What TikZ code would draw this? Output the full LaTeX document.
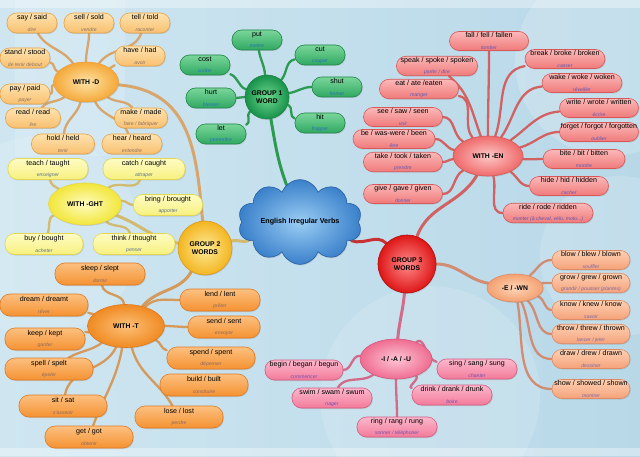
\documentclass[tikz,border=0pt]{standalone}
\usepackage{fontspec}
\setmainfont{Liberation Sans}
\usetikzlibrary{shapes.geometric,shapes.symbols,shadows}
\pgfdeclarelayer{back}
\pgfdeclarelayer{links}
\pgfsetlayers{back,links,main}
\newcommand\lf[2]{{\fontsize{7.1}{7.8}\selectfont #1}\\[-0.8pt]{\fontsize{5.1}{5.8}\selectfont\itshape\color{tr}#2}}
% colours
\definecolor{bgA}{HTML}{CFE6F1}
\definecolor{bgB}{HTML}{B8D8E8}
% D
\definecolor{tD}{HTML}{FEE3B0}\definecolor{bD}{HTML}{F9C070}\definecolor{dD}{HTML}{E8A245}\definecolor{trD}{HTML}{8A7060}
\definecolor{hiD}{HTML}{FDE4A8}\definecolor{hoD}{HTML}{F5A838}
% GHT
\definecolor{tG}{HTML}{FEFCC4}\definecolor{bG}{HTML}{F7F07E}\definecolor{dG}{HTML}{E3D650}\definecolor{trG}{HTML}{5A7090}
\definecolor{hiG}{HTML}{FFFCC0}\definecolor{hoG}{HTML}{F2E63A}
% G2
\definecolor{hi2}{HTML}{FDEB98}\definecolor{ho2}{HTML}{F3B520}\definecolor{d2}{HTML}{DB9A1C}
% T
\definecolor{tT}{HTML}{FCC080}\definecolor{bT}{HTML}{F59232}\definecolor{dT}{HTML}{E07A22}\definecolor{trT}{HTML}{8A6A60}
\definecolor{hiT}{HTML}{FCC078}\definecolor{hoT}{HTML}{F08A22}
% green
\definecolor{tV}{HTML}{7AD69A}\definecolor{bV}{HTML}{30A862}\definecolor{dV}{HTML}{1E8646}\definecolor{trV}{HTML}{2A72B8}
\definecolor{hiV}{HTML}{6ED88E}\definecolor{hoV}{HTML}{17914A}
% EN
\definecolor{tE}{HTML}{FCB8B8}\definecolor{bE}{HTML}{F07A7A}\definecolor{dE}{HTML}{D65858}\definecolor{trE}{HTML}{5A5AB8}
\definecolor{hiE}{HTML}{FDC8C8}\definecolor{hoE}{HTML}{EF6A6A}
% G3
\definecolor{hi3}{HTML}{FF8A8A}\definecolor{ho3}{HTML}{DE1616}\definecolor{d3}{HTML}{B01010}
% EWN
\definecolor{tW}{HTML}{FDD0B2}\definecolor{bW}{HTML}{F5A27A}\definecolor{dW}{HTML}{DE8A62}\definecolor{trW}{HTML}{7A6AA8}
\definecolor{hiW}{HTML}{FDD6BA}\definecolor{hoW}{HTML}{F4A070}
% IAU
\definecolor{tI}{HTML}{FCB8CC}\definecolor{bI}{HTML}{F27A9A}\definecolor{dI}{HTML}{D65A80}\definecolor{trI}{HTML}{7050B0}
\definecolor{hiI}{HTML}{FDC6D6}\definecolor{hoI}{HTML}{EF6C90}
% cloud
\definecolor{hiC}{HTML}{9ACDF4}\definecolor{hoC}{HTML}{3A80CA}\definecolor{dC}{HTML}{2860A0}
% links
\definecolor{lnD}{HTML}{D8A66C}\definecolor{lnG}{HTML}{D2BA70}\definecolor{lnT}{HTML}{D49A5C}
\definecolor{lnV}{HTML}{2C9A50}\definecolor{lnE}{HTML}{D26262}\definecolor{ln3}{HTML}{C83232}
\definecolor{lnW}{HTML}{D28C72}\definecolor{lnI}{HTML}{D26A8A}
\tikzset{
  base/.style={rectangle, rounded corners=9.5pt, minimum height=20pt, inner sep=1pt, align=center,
    line width=0.6pt, drop shadow={opacity=0.25,shadow xshift=0.8pt,shadow yshift=-1pt}},
  lD/.style={base, minimum width=50pt, draw=dD, top color=tD, bottom color=bD, execute at begin node=\colorlet{tr}{trD}},
  lG/.style={base, minimum width=80pt, minimum height=21pt, draw=dG, top color=tG, bottom color=bG, execute at begin node=\colorlet{tr}{trG}},
  lT/.style={base, minimum width=88pt, minimum height=22pt, rounded corners=10pt, draw=dT, top color=tT, bottom color=bT, execute at begin node=\colorlet{tr}{trT}},
  lV/.style={base, minimum width=50pt, draw=dV, top color=tV, bottom color=bV, execute at begin node=\colorlet{tr}{trV}},
  lE/.style={base, minimum width=79pt, minimum height=19pt, draw=dE, top color=tE, bottom color=bE, execute at begin node=\colorlet{tr}{trE}},
  lW/.style={base, minimum width=78pt, minimum height=19pt, draw=dW, top color=tW, bottom color=bW, execute at begin node=\colorlet{tr}{trW}},
  lI/.style={base, minimum width=80pt, minimum height=20pt, draw=dI, top color=tI, bottom color=bI, execute at begin node=\colorlet{tr}{trI}},
  hub/.style={ellipse, inner sep=0pt, align=center, line width=0.6pt, font=\fontsize{6.8}{7.8}\selectfont\bfseries,
    drop shadow={opacity=0.25,shadow xshift=0.8pt,shadow yshift=-1pt}},
  grp/.style={circle, inner sep=0pt, align=center, line width=0.6pt, font=\fontsize{6.8}{8}\selectfont\bfseries,
    drop shadow={opacity=0.25,shadow xshift=0.8pt,shadow yshift=-1pt}},
  lk/.style={line width=2.3pt, line cap=round},
  lkb/.style={line width=3pt, line cap=round},
}
\begin{document}
\begin{tikzpicture}[x=1pt,y=1pt]
\useasboundingbox (0,0) rectangle (640,456);
\begin{pgfonlayer}{back}
  \fill[left color=bgA, right color=bgB] (0,0) rectangle (640,456);
  \fill[white,opacity=0.18] (610,395) circle (95);
  \fill[white,opacity=0.15] (620,200) circle (80);
  \fill[white,opacity=0.14] (430,60) circle (110);
  \fill[white,opacity=0.12] (40,220) circle (100);
  \fill[white,opacity=0.15] (15,300) rectangle (125,456);
  \fill[white,opacity=0.35] (0,448) rectangle (640,456);
  \fill[white,opacity=0.35] (0,0) rectangle (640,8);
\end{pgfonlayer}

% ---------- centre
\node[cloud, cloud puffs=10, cloud puff arc=140, aspect=1.75, minimum width=124pt, minimum height=72pt, inner sep=0pt,
  draw=dC, line width=0.6pt, inner color=hiC, outer color=hoC, font=\fontsize{7.2}{8}\selectfont\bfseries,
  drop shadow={opacity=0.25,shadow xshift=0.8pt,shadow yshift=-1pt}] (cen) at (300,234) {English Irregular Verbs};

% ---------- group 1
\node[grp, minimum size=44pt, draw=dV, inner color=hiV, outer color=hoV] (g1) at (267,359) {GROUP 1\\WORD};
\node[lV] (put)  at (257,416) {\lf{put}{mettre}};
\node[lV] (cut)  at (320,401) {\lf{cut}{couper}};
\node[lV] (cost) at (205,391) {\lf{cost}{coûter}};
\node[lV] (shut) at (337,369) {\lf{shut}{fermer}};
\node[lV] (hurt) at (211,358) {\lf{hurt}{blesser}};
\node[lV] (hit)  at (320,333) {\lf{hit}{frapper}};
\node[lV] (let)  at (221,322) {\lf{let}{permettre}};

% ---------- with -D
\node[hub, minimum width=65pt, minimum height=40pt, draw=dD, inner color=hiD, outer color=hoD] (hd) at (86,374) {WITH -D};
\node[lD] (say)   at (32,433)  {\lf{say / said}{dire}};
\node[lD] (sell)  at (89,433)  {\lf{sell / sold}{vendre}};
\node[lD] (tell)  at (145,433) {\lf{tell / told}{raconter}};
\node[lD] (stand) at (25,398)  {\lf{stand / stood}{de tenir debout}};
\node[lD] (have)  at (140,400) {\lf{have / had}{avoir}};
\node[lD] (pay)   at (25,362)  {\lf{pay / paid}{payer}};
\node[lD, minimum width=55pt] (read)  at (33,338)  {\lf{read / read}{lire}};
\node[lD, minimum width=53pt] (make)  at (141,338) {\lf{make / made}{faire / fabriquer}};
\node[lD, minimum width=63pt] (hold)  at (63,312)  {\lf{hold / held}{tenir}};
\node[lD, minimum width=60pt] (hear)  at (132,312) {\lf{hear / heard}{entendre}};

% ---------- with -GHT
\node[hub, minimum width=73pt, minimum height=42pt, draw=dG, inner color=hiG, outer color=hoG] (hg) at (85,252) {WITH -GHT};
\node[lG] (teach) at (48,287)  {\lf{teach / taught}{enseigner}};
\node[lG, minimum width=82pt] (catch) at (144,287) {\lf{catch / caught}{attraper}};
\node[lG, minimum width=69pt] (bring) at (168,251) {\lf{bring / brought}{apporter}};
\node[lG, minimum width=78pt] (buy)   at (44,212)  {\lf{buy / bought}{acheter}};
\node[lG, minimum width=82pt] (think) at (134,212) {\lf{think / thought}{penser}};

% ---------- group 2
\node[grp, minimum size=54pt, draw=d2, inner color=hi2, outer color=ho2] (g2) at (205,208) {GROUP 2\\WORDS};

% ---------- with -T
\node[hub, minimum width=77pt, minimum height=43pt, draw=dT, inner color=hiT, outer color=hoT] (ht) at (126,130) {WITH -T};
\node[lT, minimum width=90pt] (sleep) at (100,182) {\lf{sleep / slept}{dormir}};
\node[lT] (dream) at (44,151)  {\lf{dream / dreamt}{rêver}};
\node[lT, minimum width=80pt] (lend)  at (220,156) {\lf{lend / lent}{prêter}};
\node[lT, minimum width=72pt] (send)  at (224,129) {\lf{send / sent}{envoyer}};
\node[lT, minimum width=80pt] (keep)  at (45,117)  {\lf{keep / kept}{garder}};
\node[lT] (spell) at (49,87)   {\lf{spell / spelt}{épeler}};
\node[lT] (spend) at (211,98)  {\lf{spend / spent}{dépenser}};
\node[lT] (build) at (204,71)  {\lf{build / built}{construire}};
\node[lT] (sit)   at (63,50)   {\lf{sit / sat}{s'asseoir}};
\node[lT] (lose)  at (179,39)  {\lf{lose / lost}{perdre}};
\node[lT] (get)   at (89,19)   {\lf{get / got}{obtenir}};

% ---------- group 3
\node[grp, minimum size=58pt, draw=d3, inner color=hi3, outer color=ho3] (g3) at (407,192) {GROUP 3\\WORDS};

% ---------- with -EN
\node[hub, minimum width=70pt, minimum height=40pt, draw=dE, inner color=hiE, outer color=hoE] (he) at (488,300) {WITH -EN};
\node[lE] (fall)   at (489,415) {\lf{fall / fell / fallen}{tomber}};
\node[lE, minimum width=81pt] (speak)  at (437,390) {\lf{speak / spoke / spoken}{parler / dire}};
\node[lE, minimum width=80pt] (break)  at (565,397) {\lf{break / broke / broken}{casser}};
\node[lE] (eat)    at (419,367) {\lf{eat / ate /eaten}{manger}};
\node[lE, minimum width=80pt] (wake)   at (582,373) {\lf{wake / woke / woken}{réveiller}};
\node[lE] (see)    at (403,339) {\lf{see / saw / seen}{voir}};
\node[lE] (write)  at (599,348) {\lf{write / wrote / written}{écrire}};
\node[lE, minimum width=82pt] (be)     at (394,317) {\lf{be / was-were / been}{être}};
\node[lE] (forget) at (599,324) {\lf{forget / forgot / forgotten}{oublier}};
\node[lE] (take)   at (403,294) {\lf{take / took / taken}{prendre}};
\node[lE, minimum width=82pt] (bite)   at (584,297) {\lf{bite / bit / bitten}{mordre}};
\node[lE] (give)   at (403,262) {\lf{give / gave / given}{donner}};
\node[lE] (hide)   at (569,270) {\lf{hide / hid / hidden}{cacher}};
\node[lE, minimum width=90pt] (ride)   at (548,243) {\lf{ride / rode / ridden}{monter (à cheval, vélo, moto...)}};

% ---------- -E / -WN
\node[hub, minimum width=56pt, minimum height=28pt, draw=dW, inner color=hiW, outer color=hoW] (hw) at (515,168) {-E / -WN};
\node[lW] (blow)  at (591,196) {\lf{blow / blew / blown}{souffler}};
\node[lW] (grow)  at (591,173) {\lf{grow / grew / grown}{grandir / pousser (plantes)}};
\node[lW] (know)  at (591,146) {\lf{know / knew / know}{savoir}};
\node[lW] (throw) at (591,122) {\lf{throw / threw / thrown}{lancer / jeter}};
\node[lW] (draw)  at (591,97)  {\lf{draw / drew / drawn}{dessiner}};
\node[lW] (show)  at (591,67)  {\lf{show / showed / shown}{montrer}};

% ---------- -I / -A / -U
\node[hub, minimum width=72pt, minimum height=40pt, draw=dI, inner color=hiI, outer color=hoI] (hi) at (396,97) {-I / -A / -U};
\node[lI, minimum width=78pt] (begin) at (304,86) {\lf{begin / began / begun}{commencer}};
\node[lI] (sing)  at (477,87) {\lf{sing / sang / sung}{chanter}};
\node[lI] (swim)  at (332,58) {\lf{swim / swam / swum}{nager}};
\node[lI] (drink) at (452,61) {\lf{drink / drank / drunk}{boire}};
\node[lI] (ring)  at (397,29) {\lf{ring / rang / rung}{sonner / téléphoner}};

% ================= links
\begin{pgfonlayer}{links}
% group 1
\draw[lk, lnV] (g1) to[out=95,in=-80] (put);
\draw[lk, lnV] (g1) to[out=50,in=190] (cut);
\draw[lk, lnV] (g1) to[out=160,in=-20] (cost);
\draw[lk, lnV] (g1) to[out=10,in=180] (shut);
\draw[lk, lnV] (g1) to[out=180,in=0] (hurt);
\draw[lk, lnV] (g1) to[out=-20,in=170] (hit);
\draw[lk, lnV] (g1) to[out=-140,in=20] (let);
\draw[lkb, lnV] (g1) to[out=-80,in=110] (cen);
% D
\draw[lk, lnD] (hd) to[out=125,in=-60] (say);
\draw[lk, lnD] (hd) to[out=90,in=-90] (sell);
\draw[lk, lnD] (hd) to[out=55,in=-110] (tell);
\draw[lk, lnD] (hd) to[out=160,in=-10] (stand);
\draw[lk, lnD] (hd) to[out=30,in=200] (have);
\draw[lk, lnD] (hd) to[out=185,in=0] (pay);
\draw[lk, lnD] (hd) to[out=215,in=50] (read);
\draw[lk, lnD] (hd) to[out=-35,in=130] (make);
\draw[lk, lnD] (hd) to[out=-105,in=85] (hold);
\draw[lk, lnD] (hd) to[out=-65,in=110] (hear);
\draw[lkb, lnD] (hd) to[out=-5,in=95, looseness=1.15] (g2);
% GHT
\draw[lk, lnG] (hg) to[out=150,in=-80] (teach);
\draw[lk, lnG] (hg) to[out=35,in=-110] (catch);
\draw[lk, lnG] (hg) to[out=5,in=180] (bring);
\draw[lk, lnG] (hg) to[out=200,in=70] (buy);
\draw[lk, lnG] (hg) to[out=-40,in=110] (think);
\draw[lkb, lnG] (hg) to[out=-20,in=170] (g2);
% group 2
\draw[lkb, lnT] (g2) to[out=-120,in=50] (ht);
\draw[lkb, lnG] (g2) to[out=15,in=200] (cen);
% T
\draw[lk, lnT] (ht) to[out=95,in=-80] (sleep);
\draw[lk, lnT] (ht) to[out=160,in=-10] (dream);
\draw[lk, lnT] (ht) to[out=45,in=180] (lend);
\draw[lk, lnT] (ht) to[out=0,in=180] (send);
\draw[lk, lnT] (ht) to[out=190,in=10] (keep);
\draw[lk, lnT] (ht) to[out=215,in=30] (spell);
\draw[lk, lnT] (ht) to[out=-25,in=170] (spend);
\draw[lk, lnT] (ht) to[out=-115,in=80] (sit);
\draw[lk, lnT] (ht) to[out=-75,in=120] (lose);
\draw[lk, lnT] (ht) to[out=-100,in=70] (get);
% centre to group 3
\draw[lkb, ln3] (cen) to[out=-20,in=135] (g3);
% group 3
\draw[lkb, lnE] (g3) to[out=70,in=-120] (he);
\draw[lkb, lnW] (g3) to[out=0,in=170] (hw);
\draw[lkb, lnI] (g3) to[out=-95,in=85] (hi);
% EN
\draw[lk, lnE] (he) to[out=90,in=-90] (fall);
\draw[lk, lnE] (he) to[out=110,in=-40] (speak);
\draw[lk, lnE] (he) to[out=130,in=-10] (eat);
\draw[lk, lnE] (he) to[out=150,in=0] (see);
\draw[lk, lnE] (he) to[out=170,in=0] (be);
\draw[lk, lnE] (he) to[out=185,in=0] (take);
\draw[lk, lnE] (he) to[out=210,in=0] (give);
\draw[lk, lnE] (he) to[out=70,in=190] (break);
\draw[lk, lnE] (he) to[out=55,in=185] (wake);
\draw[lk, lnE] (he) to[out=35,in=185] (write);
\draw[lk, lnE] (he) to[out=15,in=180] (forget);
\draw[lk, lnE] (he) to[out=-5,in=180] (bite);
\draw[lk, lnE] (he) to[out=-35,in=180] (hide);
\draw[lk, lnE] (he) to[out=-75,in=180] (ride);
% EWN
\draw[lk, lnW] (hw) to[out=40,in=180] (blow);
\draw[lk, lnW] (hw) to[out=10,in=180] (grow);
\draw[lk, lnW] (hw) to[out=-20,in=180] (know);
\draw[lk, lnW] (hw) to[out=-45,in=180] (throw);
\draw[lk, lnW] (hw) to[out=-65,in=180] (draw);
\draw[lk, lnW] (hw) to[out=-80,in=180] (show);
% IAU
\draw[lk, lnI] (hi) to[out=175,in=0] (begin);
\draw[lk, lnI] (hi) to[out=40,in=170] (sing);
\draw[lk, lnI] (hi) to[out=215,in=60] (swim);
\draw[lk, lnI] (hi) to[out=-40,in=170] (drink);
\draw[lk, lnI] (hi) to[out=-90,in=90] (ring);
\end{pgfonlayer}
\end{tikzpicture}
\end{document}
